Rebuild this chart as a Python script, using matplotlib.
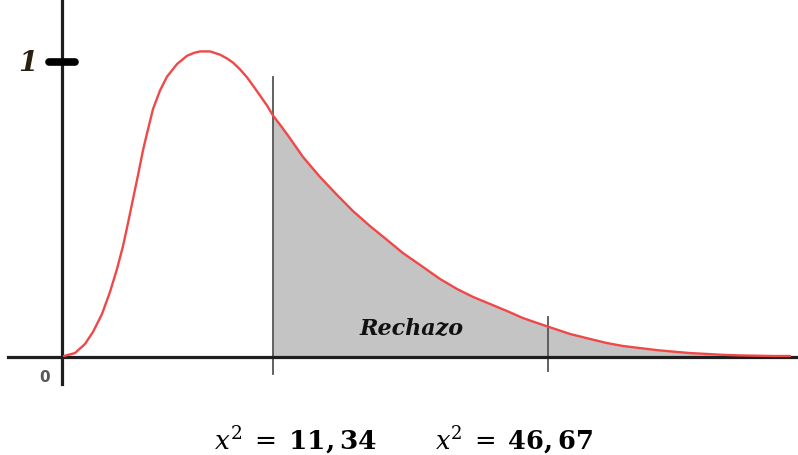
import matplotlib
matplotlib.use("Agg")
import matplotlib.pyplot as plt

# Curve (x: distance from origin, y: height relative to tick "1")
curve_x = [2, 13, 23, 31, 40, 48, 55, 61, 66, 71, 76, 81, 85, 91, 98, 105, 115, 125,
           132, 138, 148, 158, 165, 171, 178, 185, 192, 198, 205, 211, 218, 226, 241,
           258, 275, 291, 308, 325, 341, 358, 378, 395, 411, 428, 445, 461, 478, 493,
           508, 528, 545, 561, 578, 595, 611, 628, 645, 661, 678, 695, 711, 728]
curve_y = [0.000, 0.010, 0.041, 0.082, 0.143, 0.218, 0.296, 0.374, 0.452, 0.534, 0.615,
           0.700, 0.757, 0.840, 0.903, 0.950, 0.993, 1.021, 1.031, 1.036, 1.036, 1.025,
           1.012, 0.998, 0.975, 0.948, 0.915, 0.886, 0.852, 0.818, 0.787, 0.750, 0.677,
           0.609, 0.548, 0.493, 0.442, 0.395, 0.350, 0.310, 0.262, 0.228, 0.201, 0.177,
           0.153, 0.129, 0.109, 0.092, 0.075, 0.058, 0.044, 0.034, 0.027, 0.020, 0.015,
           0.010, 0.007, 0.004, 0.002, 0.001, 0.000, 0.000]

crit_x = [211, 486]           # positions of the two vertical markers
crit_labels = [r"$x^2\;=\;\mathbf{11,34}$", r"$x^2\;=\;\mathbf{46,67}$"]
region_label = "Rechazo"
ytick_label = "1"
origin_label = "0"

plt.rcParams["mathtext.fontset"] = "dejavuserif"
fig = plt.figure(figsize=(7.98, 4.56), dpi=100)
ax = fig.add_axes([0, 0, 1, 1])
ax.set_xlim(-62, 736)
ax.set_ylim(-0.3367, 1.2143)
ax.axis("off")

# shaded rejection region
sx = [x for x in curve_x if x >= crit_x[0]]
sy = [y for x, y in zip(curve_x, curve_y) if x >= crit_x[0]]
ax.fill_between(sx, 0, sy, color="#c4c4c4", zorder=1, linewidth=0)

# axes lines
ax.plot([-54, 736], [-0.003, -0.003], color="#1e1e1e", lw=2.3, zorder=3)
ax.plot([0, 0], [-0.095, 1.22], color="#1e1e1e", lw=2.3, zorder=3)

# tick at 1
ax.plot([-13, 13], [1.0, 1.0], color="black", lw=5.5, solid_capstyle="round", zorder=4)
ax.text(-34, 1.0, ytick_label, fontsize=20, style="italic", fontweight="bold",
        family="DejaVu Serif", color="#2a2010", ha="center", va="center")
ax.text(-17, -0.07, origin_label, fontsize=11, fontweight="bold", color="#555555",
        ha="center", va="center")

# vertical markers
ax.plot([crit_x[0], crit_x[0]], [-0.061, 0.949], color="#555555", lw=1.3, zorder=2)
ax.plot([crit_x[1], crit_x[1]], [-0.051, 0.133], color="#555555", lw=1.3, zorder=2)

# curve
ax.plot(curve_x, curve_y, color="#f04848", lw=1.7, zorder=5,
        solid_joinstyle="round", solid_capstyle="round")

ax.text(350, 0.10, region_label, fontsize=16, style="italic", fontweight="bold",
        family="DejaVu Serif", color="#111111", ha="center", va="center", zorder=6)

ax.text(234, -0.316, crit_labels[0], fontsize=19, ha="center", va="baseline")
ax.text(452, -0.316, crit_labels[1], fontsize=18.5, ha="center", va="baseline")

fig.savefig("out.png", dpi=100)
